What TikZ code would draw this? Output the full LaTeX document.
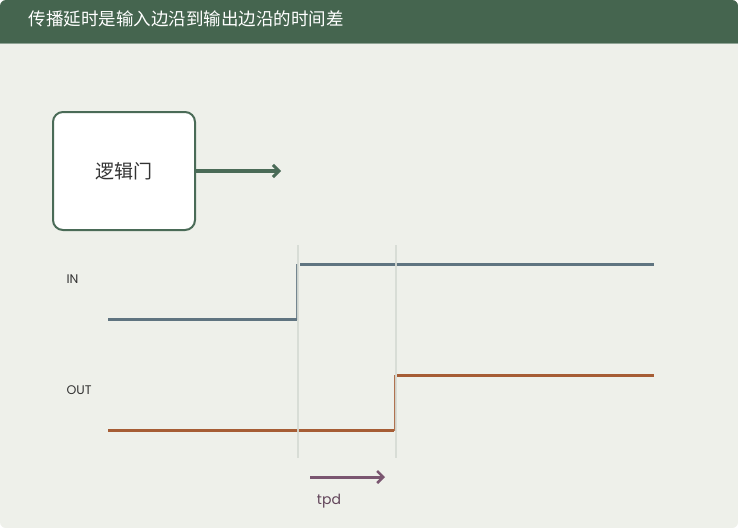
\documentclass[tikz,border=0pt]{standalone}
\usepackage{fontspec}
\setmainfont{Poppins}
\newfontfamily\cjk{Noto Sans CJK SC}
\usetikzlibrary{arrows.meta,positioning}
\definecolor{bar}{HTML}{45654F}
\definecolor{card}{HTML}{EEF0EA}
\definecolor{gatec}{HTML}{4A6B57}
\definecolor{inc}{HTML}{5F7480}
\definecolor{outc}{HTML}{A65D35}
\definecolor{guidec}{HTML}{D6DBD4}
\definecolor{tpdc}{HTML}{7A5670}
\begin{document}
\begin{tikzpicture}[x=1pt, y=-1pt,
  gatebox/.style = {draw=gatec, fill=white, line width=2pt, rounded corners=10pt, minimum width=142pt, minimum height=118pt, font=\cjk\fontsize{19}{19}\selectfont, text=black!80},
  flow/.style = {draw=gatec, line width=3.5pt, -{Straight Barb[length=6pt, width=12pt, line width=3pt]}},
  inwave/.style = {draw=inc, line width=3pt},
  outwave/.style = {draw=outc, line width=3pt},
  guide/.style = {draw=guidec, line width=2pt, opacity=.9},
  sig/.style = {anchor=west, font=\fontsize{12.5}{12.5}\selectfont, text=black!80},
  delay/.style = {draw=tpdc, line width=3pt, -{Straight Barb[length=6pt, width=12pt, line width=2.5pt]}}]
\useasboundingbox (0,0) rectangle (741,530);
\fill[white] (0,0) rectangle (741,530);
\begin{scope}
\clip[rounded corners=6pt] (0,0) rectangle (738,528);
\fill[card] (0,0) rectangle (738,528);
\fill[bar] (0,0) rectangle (738,43);
\draw[bar!60!white, line width=1.5pt] (0,43.5) -- (738,43.5);
\end{scope}
\node[anchor=west, text=white, font=\cjk\fontsize{17.5}{17.5}\selectfont] (title) at (25,19) {传播延时是输入边沿到输出边沿的时间差};
\node[gatebox] (gate) at (124,171) {逻辑门};
\coordinate (gout) at (281,171);
\draw[flow] (gate) -- (gout);
\node[sig] (in) at (63,279) {IN};
\node[sig] (out) at (63,390) {OUT};
\draw[inwave] (108,319) -- (297,319);
\draw[inwave, line width=2pt, opacity=.85] (297,320) -- (297,264);
\draw[inwave] (300,264) -- (654,264);
\draw[outwave] (108,430) -- (394,430);
\draw[outwave, line width=2pt, opacity=.85] (395,431) -- (395,375);
\draw[outwave] (397,375) -- (654,375);
\coordinate (e1t) at (298,245);
\coordinate (e1b) at (298,458);
\coordinate (e2t) at (396,245);
\coordinate (e2b) at (396,458);
\draw[guide] (e1t) -- (e1b);
\draw[guide] (e2t) -- (e2b);
\coordinate (ds) at (310,477);
\coordinate (de) at (385,477);
\draw[delay] (ds) -- (de);
\node[font=\fontsize{14}{14}\selectfont, text=tpdc!80!black] (tpd) at (329,501) {tpd};
\end{tikzpicture}
\end{document}
